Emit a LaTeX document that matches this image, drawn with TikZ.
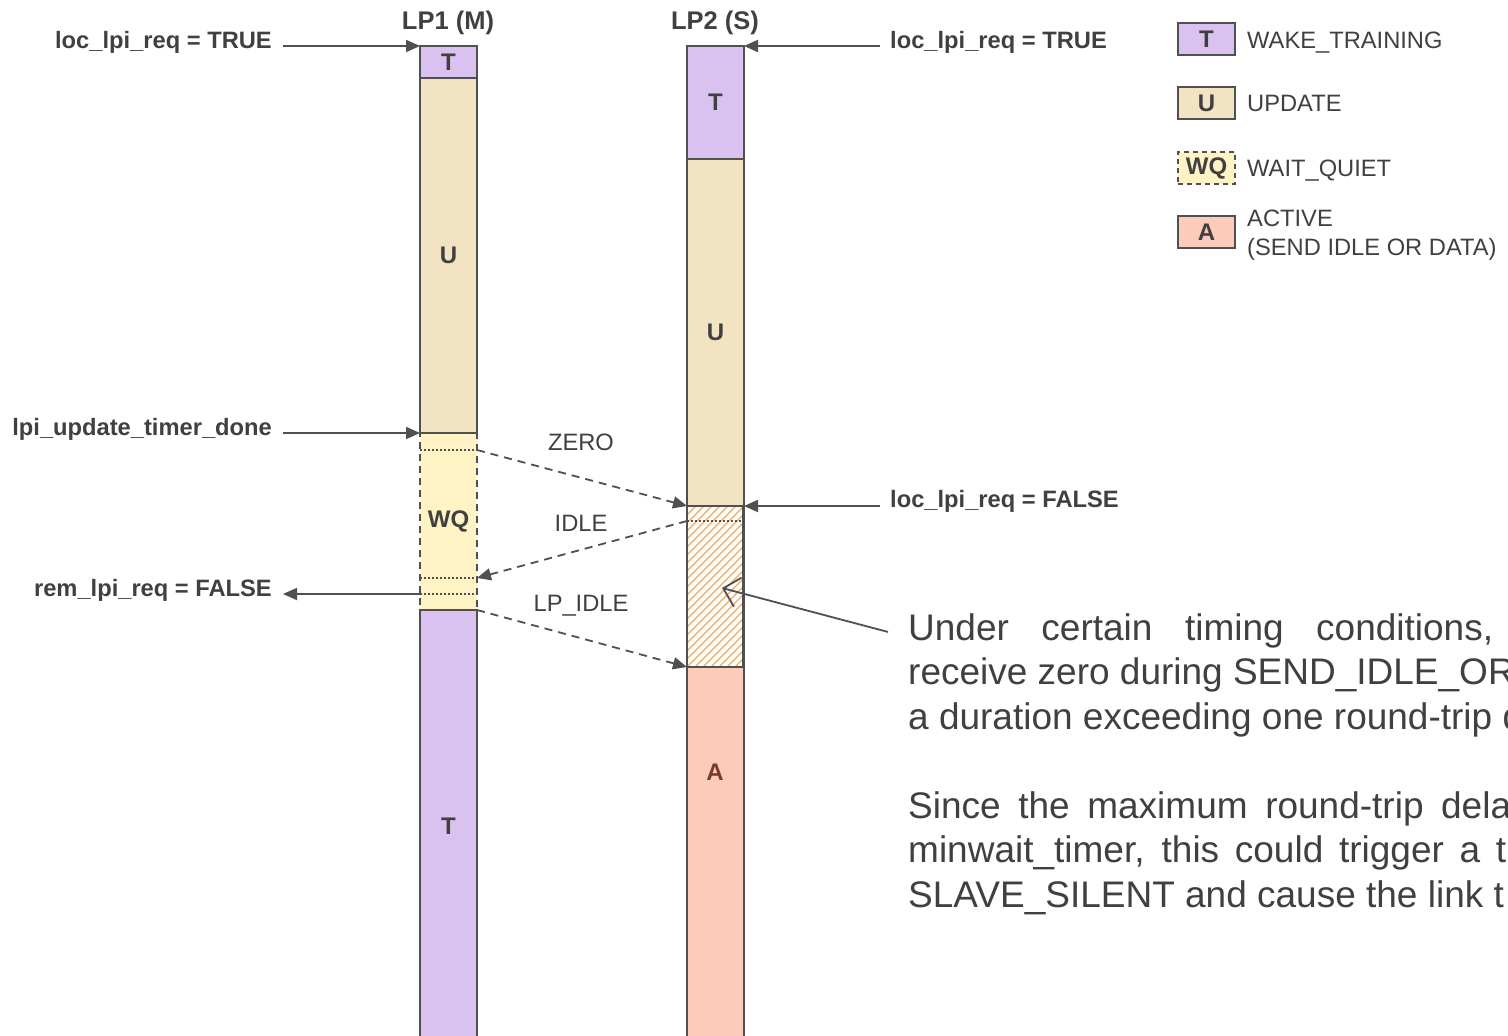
\documentclass[tikz,border=0pt]{standalone}
\usepackage{fontspec}
\setmainfont{Liberation Sans}
\usetikzlibrary{arrows.meta}

\definecolor{ink}{HTML}{404040}
\definecolor{edge}{HTML}{505050}
\definecolor{wakefill}{HTML}{D9C2EF}
\definecolor{updfill}{HTML}{F2E4C2}
\definecolor{wqfill}{HTML}{FFF2C4}
\definecolor{actfill}{HTML}{FDCBBB}
\definecolor{hatchcol}{HTML}{F7A553}
\definecolor{actlabel}{HTML}{7B3A2C}

\tikzset{
  seg/.style={draw=edge, line width=2pt, inner sep=0pt, outer sep=0pt,
              minimum width=57pt, anchor=north west, text=ink,
              font=\fontsize{24}{28}\selectfont\bfseries},
  wq/.style={seg, fill=wqfill, dashed, dash pattern=on 7pt off 5pt},
  sig/.style={inner sep=0pt, text=ink, font=\fontsize{23.7}{28}\selectfont\bfseries},
  head/.style={inner sep=0pt, text=ink, anchor=base, font=\fontsize{25.5}{30}\selectfont\bfseries},
  note/.style={inner sep=0pt, text=ink, font=\fontsize{23.7}{29}\selectfont},
  para/.style={inner sep=0pt, text=ink, anchor=base west, font=\fontsize{37}{44}\selectfont},
  arr/.style={draw=edge, line width=1.8pt, -{Triangle[length=14pt,width=12pt]}},
  msg/.style={arr, dash pattern=on 8pt off 6pt},
  dotline/.style={draw=edge, line width=1.4pt, dash pattern=on 1.5pt off 2.5pt},
  callout/.style={draw=edge, line width=1.8pt, -{Straight Barb[length=15pt,width=30pt,line width=1.8pt]}},
  keybox/.style={seg, anchor=center, minimum height=32pt},
}

\begin{document}
\begin{tikzpicture}[x=1pt,y=-1pt]
\clip (0,0) rectangle (1508,1036);
\fill[white] (0,0) rectangle (1508,1036);

% ---- LP1 (master) timeline ----
\node[head] (h1) at (448,29) {LP1 (M)};
\node[wq, minimum height=177pt] (p1WQ) at (420,433) {WQ};
\node[seg, fill=wakefill, minimum height=32pt]  (p1T)  at (420,46)  {T};
\node[seg, fill=updfill,  minimum height=355pt] (p1U)  at (420,78)  {U};
\node[seg, fill=wakefill, minimum height=432pt] (p1T2) at (420,610) {T};

\coordinate (wqA) at (477,450);
\coordinate (wqB) at (477,578);
\coordinate (wqC) at (477,594);
\draw[dotline] (420,450) -- (wqA);
\draw[dotline] (420,578) -- (wqB);
\draw[dotline] (420,594) -- (wqC);

% ---- LP2 (slave) timeline ----
\node[head] (h2) at (715,29) {LP2 (S)};
\node[seg, fill=wakefill, minimum height=113pt] (p2T) at (687,46)  {T};
\node[seg, fill=updfill,  minimum height=347pt] (p2U) at (687,159) {U};
\node[seg, fill=white,    minimum height=161pt] (p2H) at (687,506) {};
\node[seg, fill=actfill,  minimum height=380pt] (p2A) at (687,667) {};
\node[sig, text=actlabel, font=\fontsize{24}{28}\selectfont\bfseries] (aLbl) at (715,772) {A};

% hatching of the span in which zero is still received
\begin{scope}
  \clip (688,507) rectangle (742,666);
  \foreach \k in {-176,-168,...,64}
    \draw[hatchcol, line width=1.3pt] (687+\k,667) -- (687+\k+161,506);
\end{scope}
\draw[edge, line width=2pt] (687,506) -- (687,667) (743,506) -- (743,667);
\draw[edge, line width=2pt] (p2U.south west) -- (p2U.south east);
\draw[edge, line width=2pt] (p2A.north west) -- (p2A.north east);
\coordinate (hzA) at (687,521);
\draw[dotline] (hzA) -- (743,521);
\coordinate (hzTip) at (722,588);

% ---- signal labels and markers ----
\node[sig, anchor=base east] (s1) at (272,48.5)  {loc\_lpi\_req = TRUE};
\node[sig, anchor=base east] (s2) at (272,435.5) {lpi\_update\_timer\_done};
\node[sig, anchor=base east] (s3) at (272,596.5) {rem\_lpi\_req = FALSE};
\node[sig, anchor=base west] (s4) at (890,48.5)  {loc\_lpi\_req = TRUE};
\node[sig, anchor=base west] (s5) at (890,507.5) {loc\_lpi\_req = FALSE};

\draw[arr] ([xshift=11pt]s1.east |- p1T.north west) -- (p1T.north west);
\draw[arr] ([xshift=11pt]s2.east |- p1U.south west) -- (p1U.south west);
\draw[arr] (p1T2.north west |- wqC) -- ([xshift=11pt]s3.east |- wqC);
\draw[arr] ([xshift=-10pt]s4.west |- p2T.north east) -- (p2T.north east);
\draw[arr] ([xshift=-10pt]s5.west |- p2U.south east) -- (p2U.south east);

% ---- exchanged symbols ----
\draw[msg] (wqA) -- (p2U.south west);
\draw[msg] (hzA) -- (wqB);
\draw[msg] (p1T2.north east) -- (p2A.north west);
\node[note, anchor=base] (m1) at (581,450.5) {ZERO};
\node[note, anchor=base] (m2) at (581,531.5) {IDLE};
\node[note, anchor=base] (m3) at (581,611.5) {LP\_IDLE};

% ---- legend ----
\node[keybox, fill=wakefill] (k1) at (1206.5,39)  {T};
\node[keybox, fill=updfill]  (k2) at (1206.5,103) {U};
\node[keybox, fill=wqfill, dashed, dash pattern=on 5pt off 4pt] (k3) at (1206.5,168) {WQ};
\node[keybox, fill=actfill]  (k4) at (1206.5,232) {A};
\node[note, anchor=base west] (t1) at (1247,48.5)  {WAKE\_TRAINING};
\node[note, anchor=base west] (t2) at (1247,111.5) {UPDATE};
\node[note, anchor=base west] (t3) at (1247,176.5) {WAIT\_QUIET};
\node[note, anchor=base west] (t4a) at (1247,226.5) {ACTIVE};
\node[note, anchor=base west] (t4b) at (1247,255.5) {(SEND IDLE OR DATA)};

% ---- explanatory note ----
\node[para] (l1) at (908,640.5) {\makebox[585pt][s]{Under certain timing conditions,}};
\node[para] (l2) at (908,684.5) {receive zero during SEND\_IDLE\_OR};
\node[para] (l3) at (908,729)   {a duration exceeding one round-trip d};
\node[para] (l5) at (908,818)   {\makebox[603pt][s]{Since the maximum round-trip dela}};
\node[para] (l6) at (908,862.5) {\makebox[598pt][s]{minwait\_timer, this could trigger a t}};
\node[para] (l7) at (908,907)   {SLAVE\_SILENT and cause the link t};

\draw[callout] ([xshift=-20pt,yshift=-1pt]l1.west) -- (hzTip);
\end{tikzpicture}
\end{document}
